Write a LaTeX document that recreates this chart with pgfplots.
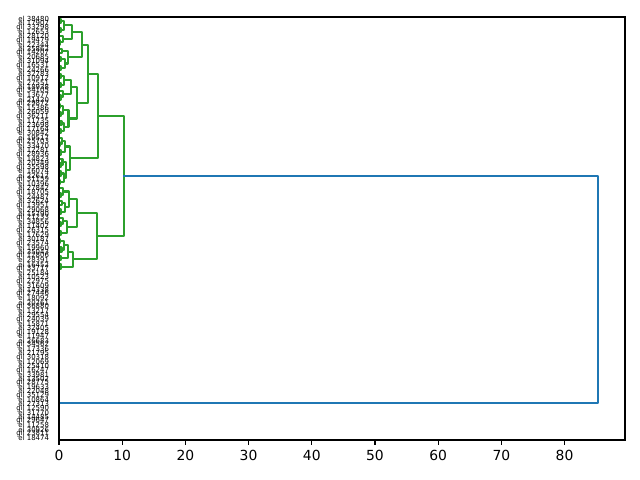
\documentclass[border=0pt]{standalone}
\usepackage{pgfplots}
\pgfplotsset{compat=1.18}
\usepackage{fontspec}
\setmainfont{DejaVu Sans}
\definecolor{cz}{HTML}{1F77B4}
\definecolor{co}{HTML}{FF7F0E}
\definecolor{cg}{HTML}{2CA02C}
% link: style, y1, h1, h, y2, h2
\newcommand{\lk}[6]{\addplot[#1] coordinates {(#3,#2) (#4,#2) (#4,#5) (#6,#5)};}
\begin{document}
\begin{tikzpicture}
\useasboundingbox (-42.48pt,-28.8pt) rectangle (418.32pt,316.8pt);
\begin{axis}[
  at={(0,0)}, anchor=south west,
  scale only axis, width=407.52pt, height=304.56pt,
  xmin=0, xmax=89.565, ymin=0, ymax=1000,
  axis on top,
  axis line style={line width=0.8pt},
  xtick={0,10,...,80},
  tick align=outside, major tick length=3.5pt,
  tick style={black, line width=0.8pt},
  xtick pos=bottom, ytick pos=left,
  y tick style={draw=none},
  /pgf/number format/assume math mode=true,
  xticklabel style={font=\fontsize{10}{12}\selectfont, inner sep=0pt, yshift=-3.5pt, text height=7.3pt},
  ytick={5,15,...,995},
  yticklabel style={font=\fontsize{5}{5}\selectfont, inner sep=0pt, xshift=-3.5pt},
  yticklabels={el 18474,gil 23811,el 30926,el 11258,gil 29647,el 14485,el 31770,gil 12590,el 27313,el 10864,
gil 35129,el 22048,el 19633,gil 28775,el 13502,el 33981,gil 16247,el 25410,el 12069,gil 30318,
el 21795,el 17336,gil 34562,el 26683,el 11947,gil 19128,el 32405,el 15871,gil 24039,el 29554,
el 13217,gil 36880,el 20761,el 18092,gil 27446,el 14338,el 31609,gil 22975,el 10523,el 25184,
gil 33717,el 16452,el 28391,gil 12806,el 35043,el 19960,gil 23574,el 30187,el 17629,gil 26315,
el 11402,el 34856,gil 21233,el 15790,el 29068,gil 13951,el 32624,el 24487,gil 18705,el 27842,
el 10396,gil 31159,el 22617,el 16074,gil 35598,el 20349,el 14823,gil 28936,el 12281,el 33470,
gil 25703,el 19517,el 30842,gil 17164,el 23698,el 11735,gil 36211,el 26059,el 15386,gil 29872,
el 21420,el 13677,gil 34105,el 18938,el 27551,gil 10912,el 32783,el 24266,gil 16531,el 31094,
el 20685,gil 14207,el 35862,el 22344,gil 19479,el 28120,el 12653,gil 33298,el 17907,el 38480},
  every axis plot/.append style={line width=1.5pt, line cap=rect, line join=round},
]
% ---- orange cluster (all merged at distance ~0)
\lk{co}{15}{0}{0}{25}{0}
\lk{co}{35}{0}{0}{45}{0}
\lk{co}{55}{0}{0}{65}{0}
\lk{co}{75}{0}{0}{85}{0}
\lk{co}{95}{0}{0}{105}{0}
\lk{co}{20}{0}{0}{40}{0}
\lk{co}{80}{0}{0}{100}{0}
\lk{co}{30}{0}{0}{60}{0}
\lk{co}{45}{0}{0}{90}{0}
\lk{co}{115}{0}{0}{125}{0}
\lk{co}{135}{0}{0}{145}{0}
\lk{co}{155}{0}{0}{165}{0}
\lk{co}{175}{0}{0}{185}{0}
\lk{co}{195}{0}{0}{205}{0}
\lk{co}{215}{0}{0}{225}{0}
\lk{co}{235}{0}{0}{245}{0}
\lk{co}{255}{0}{0}{265}{0}
\lk{co}{120}{0}{0}{140}{0}
\lk{co}{160}{0}{0}{180}{0}
\lk{co}{130}{0}{0}{170}{0}
\lk{co}{200}{0}{0}{220}{0}
\lk{co}{240}{0}{0}{260}{0}
\lk{co}{210}{0}{0}{250}{0}
\lk{co}{150}{0}{0}{230}{0}
\lk{co}{275}{0}{0}{285}{0}
\lk{co}{295}{0}{0}{305}{0}
\lk{co}{315}{0}{0}{325}{0}
\lk{co}{335}{0}{0}{345}{0}
\lk{co}{355}{0}{0}{365}{0}
\lk{co}{375}{0}{0}{385}{0}
\lk{co}{280}{0}{0}{300}{0}
\lk{co}{320}{0}{0}{340}{0}
\lk{co}{290}{0}{0}{330}{0}
\lk{co}{360}{0}{0}{380}{0}
\lk{co}{370}{0}{0}{395}{0}
\lk{co}{310}{0}{0}{382.5}{0}
\lk{co}{190}{0}{0}{346.25}{0}
\lk{co}{67.5}{0}{0}{268.125}{0}
\lk{co}{5}{0}{0}{167.8125}{0}
% ---- green cluster
\lk{cg}{405}{0}{0.30}{415}{0}
\lk{cg}{425}{0}{0.25}{435}{0}
\lk{cg}{445}{0}{0.40}{455}{0}
\lk{cg}{465}{0}{0.20}{475}{0}
\lk{cg}{450}{0.40}{0.85}{470}{0.20}
\lk{cg}{430}{0.25}{1.37}{460}{0.85}
\lk{cg}{410}{0.30}{2.26}{445}{1.37}
\lk{cg}{485}{0}{0.35}{495}{0}
\lk{cg}{505}{0}{0.30}{515}{0}
\lk{cg}{510}{0.30}{0.70}{525}{0}
\lk{cg}{490}{0.35}{1.20}{517.5}{0.70}
\lk{cg}{535}{0}{0.25}{545}{0}
\lk{cg}{555}{0}{0.45}{565}{0}
\lk{cg}{540}{0.25}{0.95}{560}{0.45}
\lk{cg}{575}{0}{0.30}{585}{0}
\lk{cg}{580}{0.30}{0.60}{595}{0}
\lk{cg}{550}{0.95}{1.55}{587.5}{0.60}
\lk{cg}{503.75}{1.20}{2.78}{568.75}{1.55}
\lk{cg}{427.5}{2.26}{6.0}{536.25}{2.78}
\lk{cg}{605}{0}{0.20}{615}{0}
\lk{cg}{625}{0}{0.35}{635}{0}
\lk{cg}{610}{0.20}{0.75}{630}{0.35}
\lk{cg}{645}{0}{0.25}{655}{0}
\lk{cg}{650}{0.25}{0.55}{665}{0}
\lk{cg}{620}{0.75}{1.10}{657.5}{0.55}
\lk{cg}{675}{0}{0.30}{685}{0}
\lk{cg}{695}{0}{0.20}{705}{0}
\lk{cg}{700}{0.20}{0.50}{715}{0}
\lk{cg}{680}{0.30}{0.90}{707.5}{0.50}
\lk{cg}{638.75}{1.10}{1.75}{693.75}{0.90}
\lk{cg}{725}{0}{0.25}{735}{0}
\lk{cg}{745}{0}{0.40}{755}{0}
\lk{cg}{730}{0.25}{0.80}{750}{0.40}
\lk{cg}{765}{0}{0.30}{775}{0}
\lk{cg}{785}{0}{0.20}{795}{0}
\lk{cg}{770}{0.30}{0.65}{790}{0.20}
\lk{cg}{740}{0.80}{1.50}{780}{0.65}
\lk{cg}{805}{0}{0.35}{815}{0}
\lk{cg}{810}{0.35}{0.70}{825}{0}
\lk{cg}{835}{0}{0.25}{845}{0}
\lk{cg}{855}{0}{0.30}{865}{0}
\lk{cg}{840}{0.25}{0.85}{860}{0.30}
\lk{cg}{817.5}{0.70}{1.90}{850}{0.85}
\lk{cg}{760}{1.50}{2.78}{833.75}{1.90}
\lk{cg}{875}{0}{0.30}{885}{0}
\lk{cg}{895}{0}{0.25}{905}{0}
\lk{cg}{880}{0.30}{0.90}{900}{0.25}
\lk{cg}{915}{0}{0.45}{925}{0}
\lk{cg}{890}{0.90}{1.45}{920}{0.45}
\lk{cg}{935}{0}{0.20}{945}{0}
\lk{cg}{940}{0.20}{0.60}{955}{0}
\lk{cg}{965}{0}{0.35}{975}{0}
\lk{cg}{985}{0}{0.25}{995}{0}
\lk{cg}{970}{0.35}{0.80}{990}{0.25}
\lk{cg}{947.5}{0.60}{2.00}{980}{0.80}
\lk{cg}{905}{1.45}{3.57}{963.75}{2.00}
\lk{cg}{796.875}{2.78}{4.63}{934.375}{3.57}
\lk{cg}{666.25}{1.75}{6.10}{865.625}{4.63}
\lk{cg}{481.875}{6.0}{10.29}{765.9375}{6.10}
% ---- root link
\lk{cz}{86.40625}{0}{85.3}{623.90625}{10.29}
\end{axis}
\end{tikzpicture}
\end{document}
